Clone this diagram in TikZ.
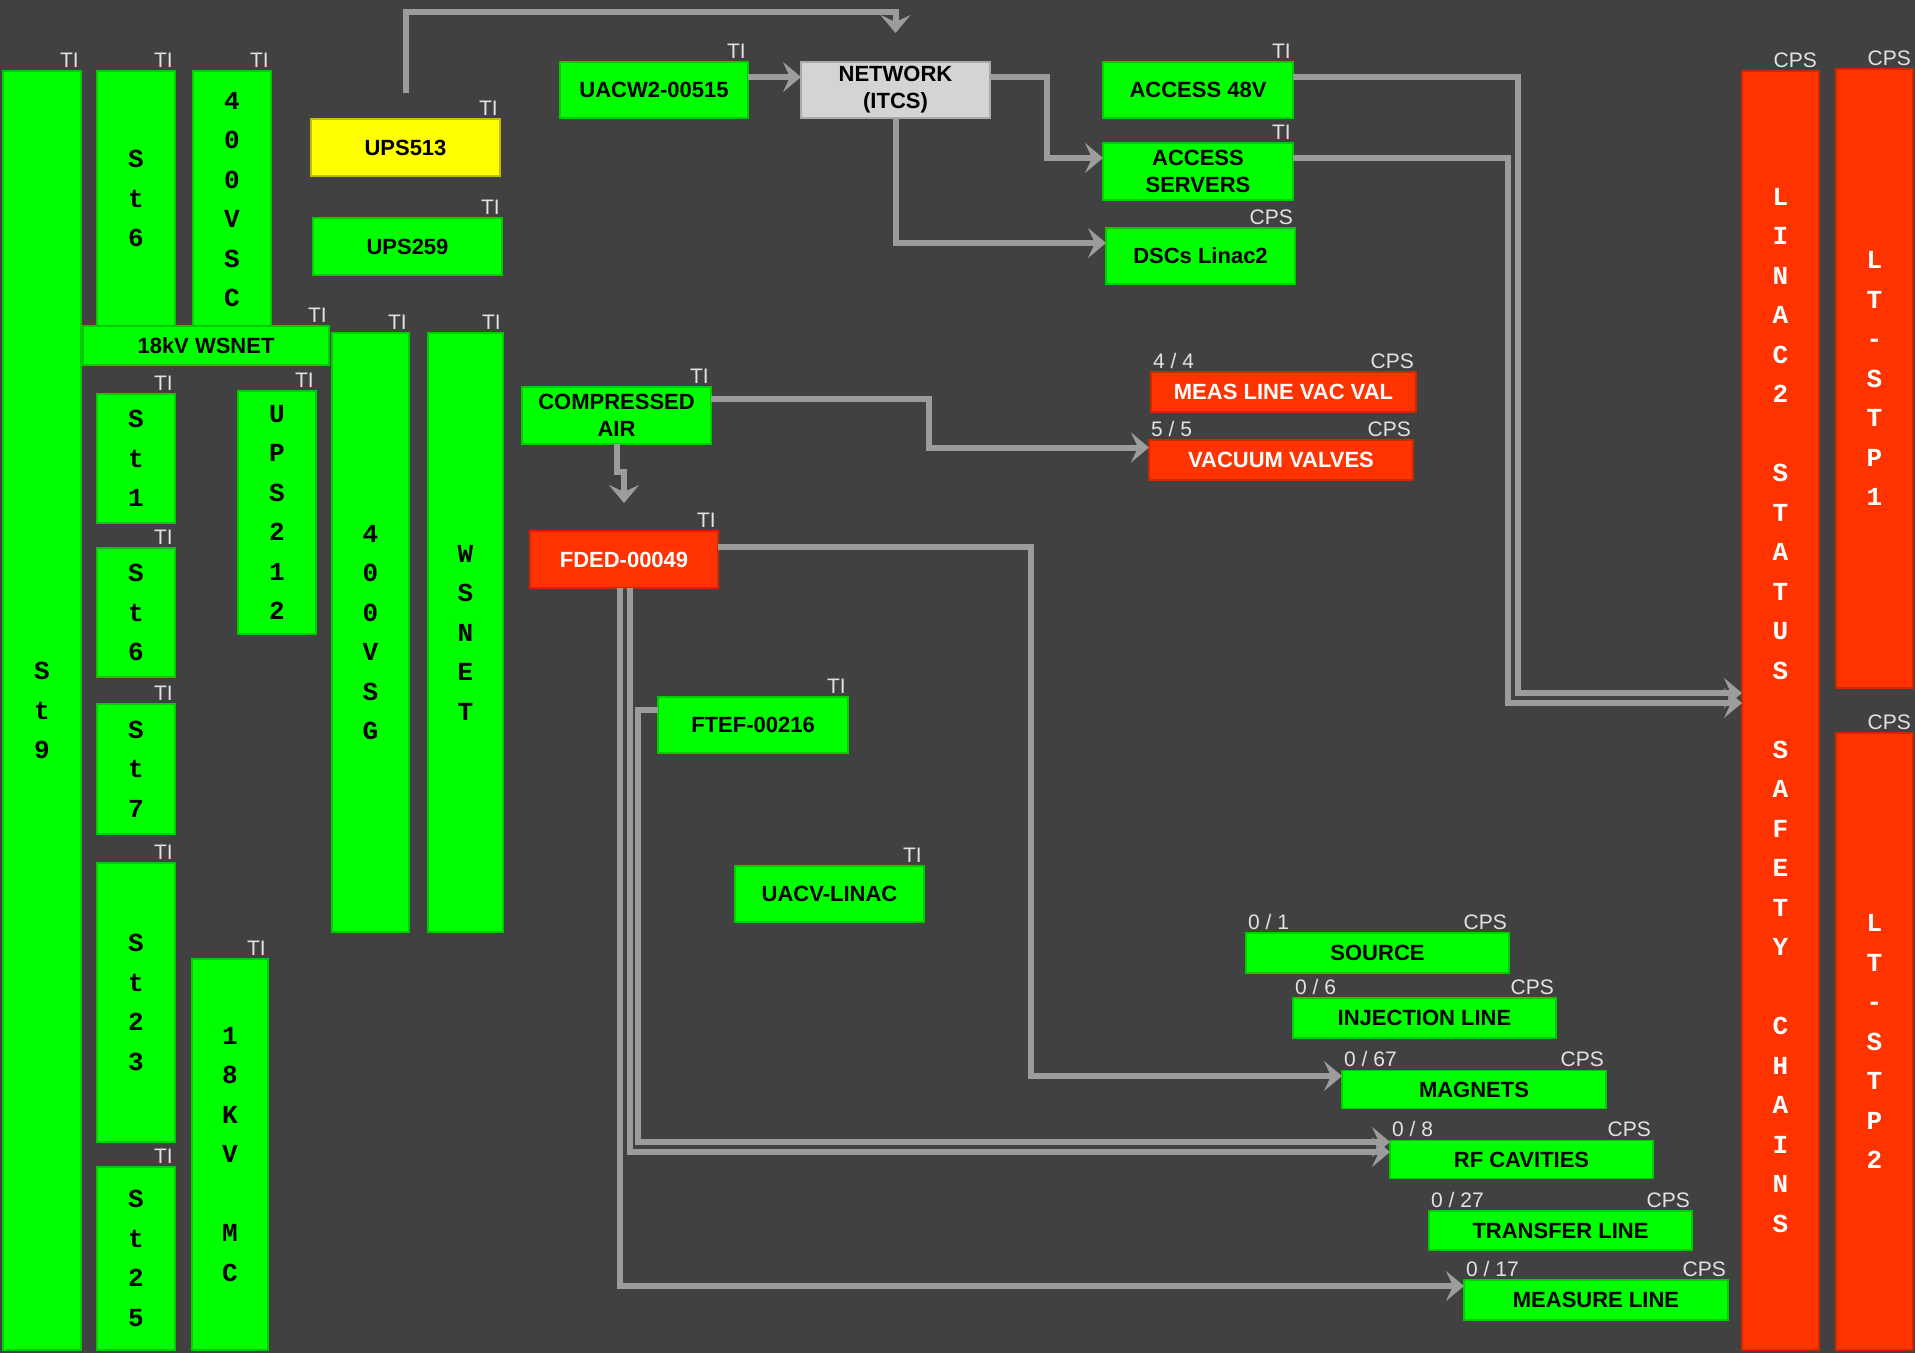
\documentclass[tikz,border=0pt]{standalone}
\usepackage{fontspec}
\setmainfont{Liberation Sans}
\newfontfamily\barfont{Liberation Mono}
\usetikzlibrary{arrows.meta}

\definecolor{panel}{HTML}{414141}
\definecolor{okgreen}{HTML}{00FF00}
\definecolor{alarmred}{HTML}{FF3300}
\definecolor{warnyellow}{HTML}{FFFF00}
\definecolor{netgray}{HTML}{D4D4D4}
\definecolor{wiregray}{HTML}{9C9C9C}
\definecolor{tagwhite}{HTML}{E2E2E2}

\tikzset{
  box/.style={rectangle, inner sep=0pt, outer sep=0pt, line width=1.5pt, align=center,
    font=\fontsize{22}{27}\selectfont\bfseries},
  ok/.style={box, fill=okgreen, draw=okgreen!80!black},
  alarm/.style={box, fill=alarmred, draw=alarmred!80!black, text=white},
  warn/.style={box, fill=warnyellow, draw=warnyellow!75!black},
  netbox/.style={box, fill=netgray, draw=netgray!80!black},
  bar/.style={font=\fontsize{26}{39.5}\selectfont\barfont\bfseries},
  sz/.style 2 args={minimum width=#1, minimum height=#2},
  tagR/.style={font=\fontsize{21}{21}\selectfont, text=tagwhite, draw=none, fill=none,
    inner sep=0pt, minimum width=0pt, minimum height=0pt, anchor=base east, xshift=-2pt, yshift=4pt},
  tagL/.style={font=\fontsize{21}{21}\selectfont, text=tagwhite, draw=none, fill=none,
    inner sep=0pt, minimum width=0pt, minimum height=0pt, anchor=base west, xshift=2pt, yshift=4pt},
  ti/.style={label={[tagR]north east:TI}},
  cps/.style={label={[tagR]north east:CPS}},
  count/.style={label={[tagL]north west:#1}},
  feed/.style={draw=wiregray, line width=6pt, -{Stealth[length=18pt,width=30pt,inset=7pt]}},
}

\begin{document}
\begin{tikzpicture}[x=1pt,y=-1pt]
  \fill[panel] (0,0) rectangle (1915,1353);
  \useasboundingbox (0,0) rectangle (1915,1353);

  % stations and power, left side
  \node[ok,bar,ti,sz={78}{1279}] (st9) at (42,710.5) {S\\t\\9};
  \node[ok,bar,ti,sz={78}{255}] (st6a) at (136,198.5) {S\\t\\6};
  \node[ok,bar,ti,sz={78}{257}] (vsc) at (232,199.5) {4\\0\\0\\V\\S\\C};
  \node[ok,ti,sz={246}{39}] (wsnet18) at (206,345.5) {18kV WSNET};
  \node[ok,bar,ti,sz={78}{129}] (st1) at (136,458.5) {S\\t\\1};
  \node[ok,bar,ti,sz={78}{129}] (st6b) at (136,612.5) {S\\t\\6};
  \node[ok,bar,ti,sz={78}{130}] (st7) at (136,769) {S\\t\\7};
  \node[ok,bar,ti,sz={78}{279}] (st23) at (136,1002.5) {S\\t\\2\\3};
  \node[ok,bar,ti,sz={78}{183}] (st25) at (136,1258.5) {S\\t\\2\\5};
  \node[ok,bar,ti,sz={78}{243}] (ups212) at (277,512.5) {U\\P\\S\\2\\1\\2};
  \node[ok,bar,ti,sz={76}{391}] (mc18) at (230,1154.5) {1\\8\\K\\V\\~\\M\\C};
  \node[ok,bar,ti,sz={77}{599}] (vsg) at (370.5,632.5) {4\\0\\0\\V\\S\\G};
  \node[ok,bar,ti,sz={75}{599}] (wsnet) at (465.5,632.5) {W\\S\\N\\E\\T};
  \node[warn,ti,sz={189}{57}] (ups513) at (405.5,147.5) {UPS513};
  \node[ok,ti,sz={189}{57}] (ups259) at (407.5,246.5) {UPS259};

  % network and services
  \node[ok,ti,sz={188}{56}] (uacw) at (654,90) {UACW2-00515};
  \node[netbox,sz={189}{56}] (network) at (895.5,90) {NETWORK\\(ITCS)};
  \node[ok,ti,sz={190}{56}] (a48) at (1198,90) {ACCESS 48V};
  \node[ok,ti,sz={190}{57}] (servers) at (1198,171.5) {ACCESS\\SERVERS};
  \node[ok,cps,sz={189}{56}] (dsc) at (1200.5,256) {DSCs Linac2};
  \node[ok,ti,sz={189}{57}] (air) at (616.5,415.5) {COMPRESSED\\AIR};
  \node[alarm,cps,count={4 / 4},sz={265}{40}] (mlvv) at (1283.5,392) {MEAS LINE VAC VAL};
  \node[alarm,cps,count={5 / 5},sz={264}{40}] (vacv) at (1281,460) {VACUUM VALVES};
  \node[alarm,ti,sz={188}{57}] (fded) at (624,559.5) {FDED-00049};
  \node[ok,ti,sz={190}{56}] (ftef) at (753,725) {FTEF-00216};
  \node[ok,ti,sz={189}{56}] (uacv) at (829.5,894) {UACV-LINAC};

  % machine parts
  \node[ok,cps,count={0 / 1},sz={263}{40}] (source) at (1377.5,953) {SOURCE};
  \node[ok,cps,count={0 / 6},sz={263}{40}] (injection) at (1424.5,1018) {INJECTION LINE};
  \node[ok,cps,count={0 / 67},sz={264}{38}] (magnets) at (1474,1089.5) {MAGNETS};
  \node[ok,cps,count={0 / 8},sz={263}{38}] (rfcav) at (1521.5,1159.5) {RF CAVITIES};
  \node[ok,cps,count={0 / 27},sz={263}{39}] (transfer) at (1560.5,1230.5) {TRANSFER LINE};
  \node[ok,cps,count={0 / 17},sz={264}{40}] (measure) at (1596,1300) {MEASURE LINE};

  % safety chains
  \node[alarm,bar,cps,sz={77}{1279}] (linac) at (1780.5,710.5)
    {L\\I\\N\\A\\C\\2\\~\\S\\T\\A\\T\\U\\S\\~\\S\\A\\F\\E\\T\\Y\\~\\C\\H\\A\\I\\N\\S};
  \node[alarm,bar,cps,sz={77}{619}] (stp1) at (1874.5,378.5) {L\\T\\-\\S\\T\\P\\1};
  \node[alarm,bar,cps,sz={77}{617}] (stp2) at (1874.5,1041.5) {L\\T\\-\\S\\T\\P\\2};

  \begin{scope}[feed]
    \draw ([yshift=26]ups513.north) -- ++(0,-81) -| ([yshift=29]network.north);
    \draw ([yshift=13]uacw.east) -- ([yshift=13]network.west);
    \draw ([yshift=13]network.east) -- ++(57,0) |- ([yshift=13.5]servers.west);
    \draw (network.south) |- ([yshift=13]dsc.west);
    \draw ([yshift=13]a48.east) -- ++(225,0) |- ([yshift=17.5]linac.west);
    \draw ([yshift=13.5]servers.east) -- ++(215,0) |- ([yshift=7.5]linac.west);
    \draw ([yshift=16.5]air.east) -- ++(218,0) |- ([yshift=12.5]vacv.west);
    \draw (air.south) -- ++(0,28) -| ([yshift=28]fded.north);
    \draw ([yshift=12.5]fded.east) -- ++(313,0) |- ([yshift=13.5]magnets.west);
    \draw ([xshift=-4]fded.south) |- ([yshift=14]measure.west);
    \draw ([xshift=6]fded.south) |- ([yshift=7.5]rfcav.west);
    \draw ([yshift=15]ftef.west) -- ++(-20,0) |- ([yshift=17.5]rfcav.west);
  \end{scope}
\end{tikzpicture}
\end{document}
